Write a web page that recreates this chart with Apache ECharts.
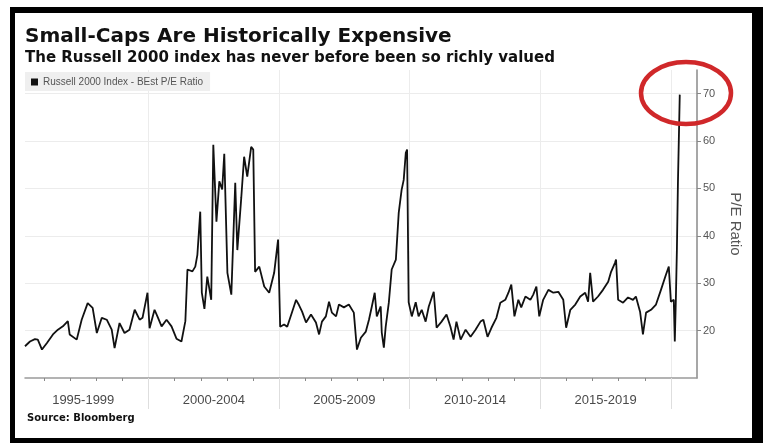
<!DOCTYPE html>
<html><head><meta charset="utf-8">
<script src="https://cdn.jsdelivr.net/npm/echarts@6/dist/echarts.min.js"></script>
<style>html,body{margin:0;padding:0;background:#fff}#c{width:763px;height:443px}</style>
</head><body><div id="c"></div>
<script>
const titleText = 'Small-Caps Are Historically Expensive';
const subtitleText = 'The Russell 2000 index has never before been so richly valued';
const seriesName = 'Russell 2000 Index - BEst P/E Ratio';
const sourceText = 'Source: Bloomberg';
const yAxisName = 'P/E Ratio';
const periodLabels = ['1995-1999', '2000-2004', '2005-2009', '2010-2014', '2015-2019'];
const periodCenters = [1997.5, 2002.5, 2007.5, 2012.5, 2017.5];
const periodBounds = [2000, 2005, 2010, 2015, 2020];
const yearTicks = [1996,1997,1998,1999,2000,2001,2002,2003,2004,2005,2006,2007,2008,2009,2010,2011,2012,2013,2014,2015,2016,2017,2018,2019,2020];
const yTicks = [20, 30, 40, 50, 60, 70];
const xMin = 1995.27, xMax = 2021.0, yMin = 10, yMax = 75;

const years = [
1995.27,1995.46,1995.65,1995.76,1995.92,1996.11,1996.34,1996.53,1996.72,1996.91,
1996.98,1997.25,1997.44,1997.67,1997.86,1998.02,1998.21,1998.40,1998.59,1998.70,
1998.89,1999.08,1999.27,1999.47,1999.66,1999.77,1999.96,2000.04,2000.23,2000.34,
2000.50,2000.69,2000.88,2001.07,2001.26,2001.41,2001.49,2001.68,2001.79,2001.87,
2001.98,2002.04,2002.14,2002.25,2002.40,2002.48,2002.60,2002.71,2002.82,2002.90,
2003.02,2003.17,2003.32,2003.40,2003.55,2003.66,2003.78,2003.93,2004.01,2004.08,
2004.24,2004.43,2004.62,2004.81,2004.96,2005.04,2005.19,2005.31,2005.50,2005.65,
2005.76,2005.88,2006.03,2006.22,2006.41,2006.53,2006.64,2006.79,2006.91,2007.02,
2007.18,2007.29,2007.48,2007.67,2007.86,2007.98,2008.13,2008.32,2008.44,2008.55,
2008.66,2008.74,2008.89,2008.93,2009.01,2009.08,2009.20,2009.31,2009.47,2009.58,
2009.69,2009.77,2009.85,2009.90,2009.96,2010.08,2010.23,2010.34,2010.46,2010.61,
2010.73,2010.92,2011.03,2011.22,2011.41,2011.56,2011.68,2011.79,2011.95,2012.14,
2012.33,2012.52,2012.71,2012.82,2012.98,2013.13,2013.32,2013.47,2013.66,2013.78,
2013.89,2014.01,2014.16,2014.27,2014.43,2014.62,2014.73,2014.85,2014.96,2015.11,
2015.31,2015.50,2015.69,2015.88,2015.99,2016.15,2016.34,2016.53,2016.72,2016.83,
2016.91,2017.02,2017.21,2017.40,2017.60,2017.71,2017.86,2017.90,2017.98,2018.17,
2018.36,2018.55,2018.66,2018.82,2018.93,2019.05,2019.24,2019.43,2019.62,2019.81,
2019.92,2020.00,2020.11,2020.15,2020.19,2020.23,2020.27,2020.34
];
const peRatio = [
16.7,17.7,18.2,18.1,16.0,17.4,19.2,20.2,20.9,22.0,
19.2,18.1,22.3,25.8,24.8,19.5,22.7,22.3,20.2,16.3,
21.6,19.5,20.2,24.4,22.3,22.7,28.0,20.5,24.4,23.0,
20.9,22.3,20.9,18.3,17.7,22.0,32.9,32.5,33.5,36.0,
45.1,28.0,24.6,31.4,26.5,59.2,43.0,51.5,49.8,57.3,
32.2,27.6,51.2,37.0,48.0,56.7,52.5,58.8,58.2,32.4,
33.5,29.3,28.0,32.2,39.2,20.8,21.3,20.8,24.0,26.5,
25.4,24.0,21.7,23.4,21.7,19.2,21.9,23.0,26.1,23.8,
23.0,25.5,24.9,25.5,23.8,16.0,18.5,19.8,22.3,25.1,
28.0,23.0,25.1,19.6,16.4,20.8,25.9,32.9,35.0,44.9,
49.7,51.8,57.5,58.2,26.0,23.0,26.0,23.0,24.4,21.9,
25.1,28.2,20.6,21.9,23.4,20.8,18.1,21.9,18.1,20.2,
18.7,20.2,21.9,22.3,18.7,20.6,22.7,25.9,26.5,28.0,
29.7,23.0,26.5,24.9,27.2,26.5,27.6,29.3,23.0,26.5,
28.6,28.0,28.2,26.5,20.6,24.4,25.5,27.2,28.0,26.1,
32.2,26.1,27.2,28.6,30.3,32.4,34.3,35.0,26.5,25.9,
27.0,26.5,27.2,24.0,19.2,23.8,24.4,25.5,28.6,31.8,
33.5,26.1,26.5,17.7,26.5,37.0,51.2,69.8
];

const chart = echarts.init(document.getElementById('c'), null, {renderer: 'canvas'});
const seriesData = years.map((t, i) => [t, peRatio[i]]);

chart.setOption({
  animation: false,
  backgroundColor: '#fff',
  title: [
    {text: titleText, left: 25, top: 27, padding: 0,
     textStyle: {fontFamily: 'DejaVu Sans', fontWeight: 'bold', fontSize: 20, color: '#111'}},
    {text: subtitleText, left: 25, top: 51, padding: 0,
     textStyle: {fontFamily: 'DejaVu Sans', fontWeight: 'bold', fontSize: 15, color: '#111'}},
    {text: sourceText, left: 27, top: 413, padding: 0,
     textStyle: {fontFamily: 'DejaVu Sans', fontWeight: 'bold', fontSize: 10, color: '#111'}}
  ],
  legend: {
    left: 25, top: 72, padding: [5, 7, 4, 6],
    backgroundColor: '#efefef',
    icon: 'rect', itemWidth: 7, itemHeight: 7, itemGap: 4,
    textStyle: {fontFamily: 'Liberation Sans', fontSize: 10, color: '#555'},
    data: [seriesName]
  },
  grid: {left: 25, right: 66, top: 70, bottom: 65, containLabel: false},
  xAxis: [
    {
      type: 'value', min: xMin, max: xMax, position: 'bottom',
      axisLine: {show: true, lineStyle: {color: '#9a9a9a', width: 1.5}},
      axisTick: {show: true, customValues: yearTicks, length: 3, lineStyle: {color: '#888'}},
      axisLabel: {
        show: true, customValues: periodCenters, margin: 16,
        fontFamily: 'Liberation Sans', fontSize: 13, color: '#4a4a4a',
        formatter: v => { const i = periodCenters.indexOf(v); return i >= 0 ? periodLabels[i] : ''; }
      },
      splitLine: {show: false}
    },
    {
      type: 'value', min: xMin, max: xMax, position: 'bottom',
      axisLine: {show: false},
      axisTick: {show: true, customValues: periodBounds, length: 31, lineStyle: {color: '#dedede'}},
      axisLabel: {show: false},
      splitLine: {show: true, lineStyle: {color: '#ececec', width: 1}}
    }
  ],
  yAxis: {
    type: 'value', min: yMin, max: yMax, position: 'right',
    name: yAxisName, nameLocation: 'middle', nameRotate: -90, nameGap: 31,
    nameTextStyle: {fontFamily: 'Liberation Sans', fontSize: 15, color: '#555'},
    axisLine: {show: true, lineStyle: {color: '#8a8a8a', width: 1.5}},
    axisTick: {show: true, customValues: yTicks, length: 4, lineStyle: {color: '#888'}},
    axisLabel: {show: true, customValues: yTicks, margin: 6,
      fontFamily: 'Liberation Sans', fontSize: 11, color: '#555'},
    splitLine: {show: true, lineStyle: {color: '#ececec', width: 1}}
  },
  series: [{
    name: seriesName, type: 'line', xAxisIndex: 0,
    data: seriesData, showSymbol: false, symbol: 'none',
    itemStyle: {color: '#111'},
    lineStyle: {color: '#111', width: 1.8},
    z: 5
  }],
  graphic: [
    {type: 'rect', z: 100, silent: true, shape: {x: 10, y: 7, width: 5, height: 436}, style: {fill: '#000'}},
    {type: 'rect', z: 100, silent: true, shape: {x: 10, y: 7, width: 753, height: 6}, style: {fill: '#000'}},
    {type: 'rect', z: 100, silent: true, shape: {x: 752, y: 7, width: 11, height: 436}, style: {fill: '#000'}},
    {type: 'rect', z: 100, silent: true, shape: {x: 10, y: 438, width: 753, height: 5}, style: {fill: '#000'}},
    {type: 'ellipse', z: 100, silent: true,
     shape: {cx: 686, cy: 93, rx: 45, ry: 31},
     style: {fill: 'none', stroke: '#d0282a', lineWidth: 4.5}}
  ]
});
</script>
</body></html>
